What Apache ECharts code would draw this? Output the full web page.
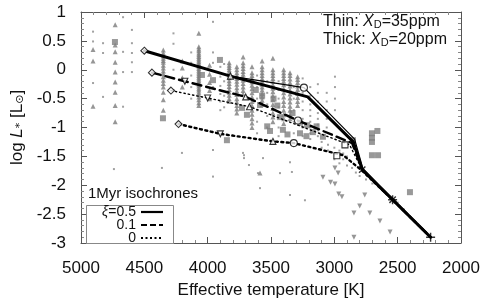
<!DOCTYPE html>
<html><head><meta charset="utf-8">
<script src="https://cdn.jsdelivr.net/npm/echarts/dist/echarts.min.js"></script>
<style>html,body{margin:0;padding:0;background:#fff}#c{width:485px;height:305px}</style>
</head><body><div id="c"></div>
<script>
const xTicks=[5000,4500,4000,3500,3000,2500,2000];
const yTicks=[1,0.5,0,-0.5,-1,-1.5,-2,-2.5,-3];

// observed stars (grey), columns: [Teff, [logL ...]]
const triCols=[
 [4905,[0.35,0.15,-0.63]],
 [4730,[0.78,0.43,0.31,0.13,-0.04,-0.21,-0.39,-0.62,-0.9]],
 [4350,[0.34,0.29,0.24,0.2,0.16,0.13,0.08,0.03,-0.02,-0.07,-0.12,-0.18,-0.24,-0.3,-0.39,-0.52,-0.7]],
 [4200,[0.15,0.03,-0.14,-0.3]],
 [4070,[0.63,0.4,0.36,0.33,0.29,0.26,0.23,0.2,0.17,0.14,0.11,0.08,0.05,0.02,-0.01,-0.04,-0.07,-0.1,-0.13,-0.16,-0.19,-0.22,-0.25,-0.28,-0.32,-0.35,-0.39,-0.43,-0.47,-0.52,-0.57,-0.62]],
 [3985,[0.08,-0.08,-0.22,-0.36,-0.5]],
 [3830,[0.12,0.08,0.04,0.0,-0.04,-0.09,-0.14,-0.19,-0.24,-0.29,-0.34,-0.39,-0.44,-0.5,-0.55]],
 [3770,[0.05,0.0,-0.05,-0.1,-0.15,-0.2,-0.25,-0.31,-0.37,-0.43,-0.5,-0.56,-0.62,-0.68,-0.75]],
 [3720,[0.22,0.12,0.07,0.02,-0.03,-0.08,-0.13,-0.18,-0.24,-0.3,-0.36,-0.42]],
 [3650,[0.05,-0.05,-0.1,-0.15,-0.21,-0.27,-0.33,-0.4,-0.47,-0.55,-0.62,-0.7,-0.77,-0.85,-0.92,-1.0]],
 [3570,[0.15,0.05,-0.0,-0.05,-0.1,-0.15,-0.2,-0.25,-0.3,-0.35,-0.41,-0.47,-0.53,-0.6]],
 [3485,[0.2,0.0,-0.05,-0.1,-0.15,-0.2,-0.26,-0.32,-0.38,-0.45,-0.52,-0.6,-0.67,-0.75,-0.82,-0.9]],
 [3400,[0.0,-0.05,-0.1,-0.15,-0.2,-0.26,-0.33,-0.4,-0.47,-0.55,-0.62,-0.7,-0.78,-0.85,-0.93]],
 [3350,[-0.05,-0.1,-0.16,-0.22,-0.28,-0.35,-0.42,-0.49,-0.56,-0.63,-0.7,-0.78,-0.85]],
 [3290,[-0.12,-0.17,-0.22,-0.28,-0.34,-0.41,-0.48,-0.55,-0.62]],
 [3587,[-1.79]]
];
const dotCols=[
 [4905,[0.66,0.49,-0.23]],[4826,[0.46,0.29,-0.47]],[4668,[0.91,0.31,-0.04,-0.64]],
 [4598,[0.69,0.46,0.29,0.13,-0.04]],[4270,[0.63,0.45,0.0,-0.35]],[4130,[0.3,0.12,-0.1,-0.3,-0.5]],
 [3958,[0.83,0.3,0.12,-0.02,-0.3,-1.39,-1.85]],[3900,[0.05,-0.12,-0.28,-0.42,-0.55,-0.7]],
 [3870,[0.1,-0.2,-0.45,-0.65]],[3610,[-0.1,-0.3,-0.5,-0.7,-0.9,-1.1]],[3530,[-0.2,-0.4,-0.6,-0.8,-1.0]],
 [3440,[-0.2,-0.35,-0.5,-0.65,-0.8,-1.0,-1.15]],[3320,[-0.3,-0.5,-0.7,-0.9,-1.1]],[3250,[-0.15,-0.4,-0.55,-0.7,-0.85,-1.0,-1.15]],
 [3190,[-0.3,-0.45,-0.6,-0.7,-0.8,-0.9,-1.0,-1.1,-1.2]],[3130,[-0.25,-0.4,-0.55,-0.65,-0.75,-0.85,-0.95,-1.05,-1.15]],
 [3060,[-0.4,-0.55,-0.7,-0.85,-1.0]],[2995,[-0.12,-0.3,-0.5,-0.7]],
 [4740,[-1.72]],[4361,[-1.7]],[4203,[-1.44]],[3713,[-1.48,-1.53]],[3674,[-1.65]],[3603,[-1.79]],
 [3721,[-1.44]],[3563,[-1.53]],[3429,[-1.79]],[3350,[-1.6,-2.17]],[3335,[-1.77]],[3232,[-2.26]],[3587,[-2.05]],
 [3100,[-1.25,-1.35]],[3050,[-1.3,-1.4]],[3000,[-1.35,-1.55]],[2960,[-1.4,-1.62]],[2930,[-1.45,-1.55]],[2900,[-1.5,-1.66]],
 [2860,[-1.7]],[2830,[-1.78]],[2800,[-1.84]],[2750,[-1.9]],[2700,[-1.97]],[2650,[-2.03]],[2600,[-2.12]],
 [2500,[-2.3]],[2450,[-2.42]]
];
const sqPts=[[4732,0.48],[4353,-0.84],[3903,0.17],[4045,-0.09],[3958,-0.18],[3729,-0.66],[3848,-1.22],
 [3508,-1.06],[3690,-0.78],[3587,-0.61],[3530,-0.98],[3406,-1.04],[3271,-1.1],[3169,-1.08],[3090,-1.16],
 [3430,-0.82],[3271,-0.92],[3215,-0.96],[3570,-0.45],[3480,-0.5],[3620,-0.35],[3450,-0.62],[3330,-0.75],
 [3140,-0.98],[3370,-1.12],[3220,-1.15],
 [2703,-1.1],[2703,-1.18],[2703,-1.25],[2660,-1.06],[2703,-1.48],[2655,-1.48],[2403,-2.12],[2853,-1.22]];
const invPts=[[3090,-1.86],[3030,-1.95],[2995,-1.98],[2995,-1.7],[2970,-1.79],[2965,-2.15],[2940,-2.2],
 [2760,-2.17],[2845,-2.48],[2800,-2.36],[2720,-2.48],[2640,-2.62],[2560,-2.81],[2845,-2.9]];

// 1 Myr isochrones
const solidThick=[[4500,0.33],[3820,-0.11],[3210,-0.47],[2850,-1.25],[2780,-1.73],[2540,-2.25],[2240,-2.9]];
const solidThin=[[4500,0.33],[3820,-0.11],[3240,-0.31],[2840,-1.2],[2775,-1.71],[2540,-2.24],[2240,-2.9]];
const dashed=[[4440,-0.05],[4180,-0.2],[3700,-0.47],[3287,-0.88],[2860,-1.27],[2780,-1.73],[2540,-2.25],[2240,-2.9]];
const dottedThin=[[4290,-0.36],[4000,-0.49],[3670,-0.64],[3300,-0.95],[2880,-1.3],[2780,-1.73],[2540,-2.25],[2240,-2.9]];
const dottedThick=[[4230,-0.94],[3900,-1.11],[3485,-1.24],[3320,-1.27],[2930,-1.48],[2780,-1.75],[2540,-2.25],[2240,-2.9]];
// model markers
const mkDiamond=[[4500,0.33],[4440,-0.05],[4290,-0.36],[4230,-0.94]];
const mkUp=[[3820,-0.11],[3700,-0.47],[3670,-0.64],[3485,-1.24]];
const mkDown=[[4180,-0.2],[4000,-0.49],[3900,-1.11]];
const mkCircle=[[3240,-0.31],[3287,-0.88],[3320,-1.27]];
const mkSquare=[[2916,-1.3],[2980,-1.49]];
const mkPlus=[[2240,-2.9],[2540,-2.25]];
const mkCross=[[2780,-1.73],[2540,-2.25]];

const FF='"Liberation Sans", Arial, Helvetica, sans-serif';
function expand(cols){const o=[];cols.forEach(c=>c[1].forEach(v=>o.push([c[0],v])));return o;}
const PLUS='path://M4.2,0H5.8V4.2H10V5.8H5.8V10H4.2V5.8H0V4.2H4.2Z';

const chart=echarts.init(document.getElementById('c'));
const axCol='#555';
const xBase={type:'value',min:Math.min(...xTicks),max:Math.max(...xTicks),interval:xTicks[0]-xTicks[1],inverse:true,
  axisLine:{show:true,onZero:false,lineStyle:{color:axCol,width:1}},
  axisTick:{show:true,inside:true,length:6,lineStyle:{color:axCol}},
  minorTick:{show:true,splitNumber:5,length:3,lineStyle:{color:'#888'}},
  splitLine:{show:false},minorSplitLine:{show:false}};
const yBase={type:'value',min:Math.min(...yTicks),max:Math.max(...yTicks),interval:yTicks[0]-yTicks[1],
  axisLine:{show:true,onZero:false,lineStyle:{color:axCol,width:1}},
  axisTick:{show:true,inside:true,length:6,lineStyle:{color:axCol}},
  minorTick:{show:true,splitNumber:5,length:3,lineStyle:{color:'#888'}},
  splitLine:{show:false},minorSplitLine:{show:false}};

function line(data,w,type,z){return {type:'line',data:data,symbol:'none',silent:true,z:z||5,
  lineStyle:{color:'#000',width:w,type:type,cap:'round'},xAxisIndex:0,yAxisIndex:0};}
function mk(data,sym,size,rot){return {type:'scatter',data:data,symbol:sym,symbolSize:size,symbolRotate:rot||0,z:8,
  itemStyle:{color:'#fff',borderColor:'#000',borderWidth:1.1}};}

chart.setOption({
 animation:false,
 grid:{left:81,right:24,top:12,bottom:62,containLabel:false},
 xAxis:[Object.assign({},xBase,{position:'bottom',
   axisLabel:{color:'#111',fontSize:17,margin:17,fontFamily:FF,formatter:v=>String(v)},
   name:'Effective temperature [K]',nameLocation:'middle',nameGap:38,
   nameTextStyle:{color:'#111',fontSize:17,fontFamily:FF}}),
  Object.assign({},xBase,{position:'top',axisLabel:{show:false}})],
 yAxis:[Object.assign({},yBase,{position:'left',
   axisLabel:{color:'#111',fontSize:17,margin:15,fontFamily:FF,formatter:v=>String(v)},
   name:'{n|log }{i|L}{s|*}{n| [L}{s|⊙}{n|]}',nameLocation:'middle',nameGap:50,
   nameTextStyle:{color:'#111',fontSize:17,fontFamily:FF,rich:{
     n:{fontSize:17,fontFamily:FF,color:'#111'},
     i:{fontSize:17,fontStyle:'italic',fontFamily:FF,color:'#111'},
     s:{fontSize:11,fontFamily:'"DejaVu Sans", '+FF,color:'#111',verticalAlign:'bottom',padding:[6,0,0,0]}}}}),
  Object.assign({},yBase,{position:'right',axisLabel:{show:false}})],
 series:[
  {type:'scatter',data:expand(dotCols),symbol:'rect',symbolSize:2,itemStyle:{color:'#8a8a8a'},z:2},
  {type:'scatter',data:expand(triCols),symbol:'triangle',symbolSize:5,itemStyle:{color:'#7c7c7c'},z:2},
  {type:'scatter',data:sqPts,symbol:'rect',symbolSize:6,itemStyle:{color:'#808080'},z:2},
  {type:'scatter',data:invPts,symbol:'triangle',symbolRotate:180,symbolSize:5,itemStyle:{color:'#7c7c7c'},z:2},
  line(dottedThick,2.4,[2,3.5]),
  line(dottedThin,1.4,[1.4,3]),
  line(dashed,2.4,[9,5]),
  line(solidThin,1.2,'solid'),
  line(solidThick,3,'solid'),
  mk(mkDiamond,'diamond',7),
  mk(mkUp,'triangle',6),
  mk(mkDown,'triangle',6,180),
  mk(mkCircle,'circle',7),
  mk(mkSquare,'rect',6),
  {type:'scatter',data:mkPlus,symbol:PLUS,symbolSize:9,z:9,itemStyle:{color:'#000'}},
  {type:'scatter',data:mkCross,symbol:PLUS,symbolSize:9,symbolRotate:45,z:9,itemStyle:{color:'#000'}}
 ],
 graphic:[
  {type:'text',left:323,top:14,z:20,style:{text:'{n|Thin: }{i|X}{s|D}{n|=35ppm}',
    rich:{n:{fontSize:16,fontFamily:FF,fill:'#111'},i:{fontSize:16,fontStyle:'italic',fontFamily:FF,fill:'#111'},
      s:{fontSize:11,fontFamily:FF,fill:'#111',verticalAlign:'bottom',padding:[5,0,0,0]}}}},
  {type:'text',left:323,top:32,z:20,style:{text:'{n|Thick: }{i|X}{s|D}{n|=20ppm}',
    rich:{n:{fontSize:16,fontFamily:FF,fill:'#111'},i:{fontSize:16,fontStyle:'italic',fontFamily:FF,fill:'#111'},
      s:{fontSize:11,fontFamily:FF,fill:'#111',verticalAlign:'bottom',padding:[5,0,0,0]}}}},
  {type:'text',left:88,top:186,z:20,style:{text:'1Myr isochrones',fontSize:15,fontFamily:FF,fill:'#111'}},
  {type:'rect',shape:{x:86.5,y:205.5,width:87,height:38},z:19,style:{fill:'#fff',stroke:'#888',lineWidth:1}},
  {type:'text',x:136,y:212,z:20,style:{text:'{i|ξ}{n|=0.5}',align:'right',verticalAlign:'middle',
    rich:{n:{fontSize:14,fontFamily:FF,fill:'#111'},i:{fontSize:14,fontStyle:'italic',fontFamily:FF,fill:'#111'}}}},
  {type:'text',x:136,y:225,z:20,style:{text:'0.1',fontSize:14,fontFamily:FF,fill:'#111',align:'right',verticalAlign:'middle'}},
  {type:'text',x:136,y:238,z:20,style:{text:'0',fontSize:14,fontFamily:FF,fill:'#111',align:'right',verticalAlign:'middle'}},
  {type:'line',z:20,shape:{x1:141,y1:212,x2:163,y2:212},style:{stroke:'#000',lineWidth:2.2}},
  {type:'line',z:20,shape:{x1:141,y1:225,x2:163,y2:225},style:{stroke:'#000',lineWidth:2.2,lineDash:[6,3]}},
  {type:'line',z:20,shape:{x1:141,y1:238,x2:163,y2:238},style:{stroke:'#000',lineWidth:2,lineDash:[2,2.5]}}
 ]
});
</script></body></html>
